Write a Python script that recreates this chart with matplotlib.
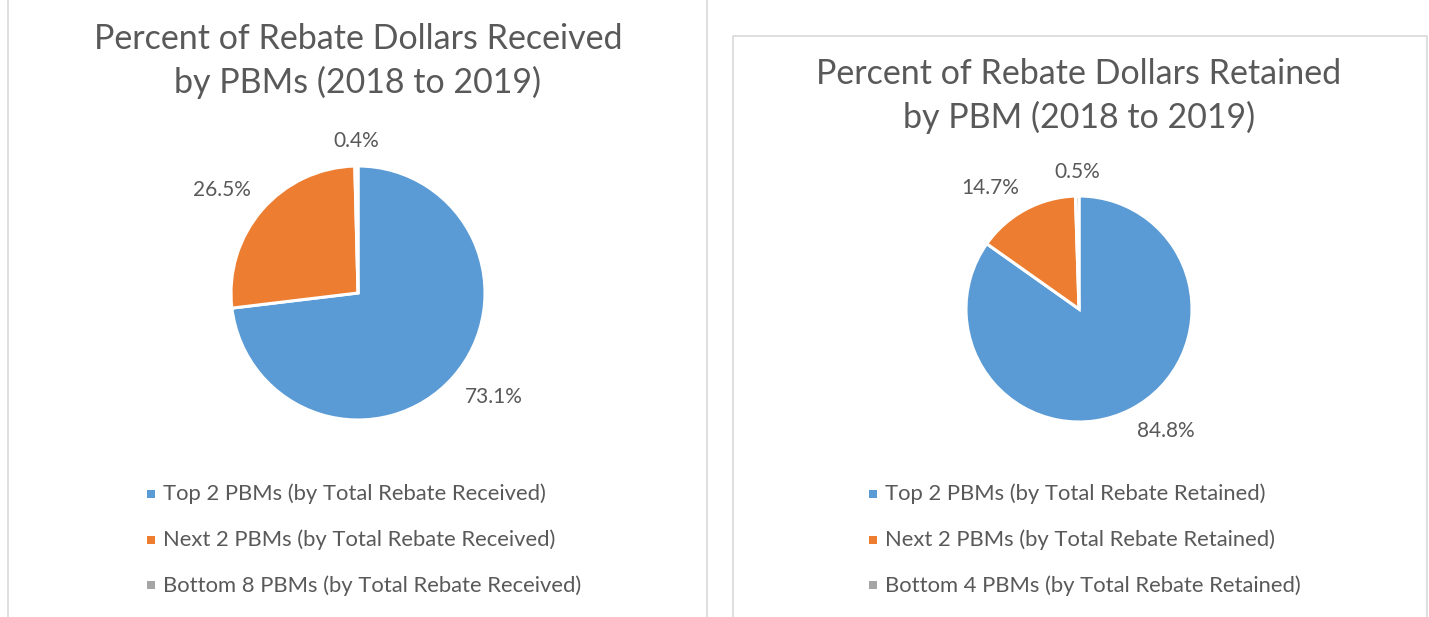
import matplotlib
matplotlib.use("Agg")
import matplotlib.pyplot as plt
import numpy as np
from matplotlib.patches import Rectangle

plt.rcParams["font.family"] = ["Lato", "DejaVu Sans"]

# data
received_labels = [
    "Top 2 PBMs (by Total Rebate Received)",
    "Next 2 PBMs (by Total Rebate Received)",
    "Bottom 8 PBMs (by Total Rebate Received)",
]
received_values = [73.1, 26.5, 0.4]
retained_labels = [
    "Top 2 PBMs (by Total Rebate Retained)",
    "Next 2 PBMs (by Total Rebate Retained)",
    "Bottom 4 PBMs (by Total Rebate Retained)",
]
retained_values = [84.8, 14.7, 0.5]
titles = [
    "Percent of Rebate Dollars Received\nby PBMs (2018 to 2019)",
    "Percent of Rebate Dollars Retained\nby PBM (2018 to 2019)",
]

colors = ["#5B9BD5", "#ED7D31", "#A5A5A5"]
text_color = "#595959"
border_color = "#D9D9D9"

W, H = 1429, 617
fig = plt.figure(figsize=(W / 100, H / 100), dpi=100)


def fx(x):
    return x / W


def fy(y):
    return 1 - y / H


# panel frames
fig.add_artist(Rectangle((fx(8), fy(640)), fx(707) - fx(8), fy(-20) - fy(640),
                         transform=fig.transFigure, fill=False,
                         edgecolor=border_color, linewidth=1.2))
fig.add_artist(Rectangle((fx(733), fy(640)), fx(1427) - fx(733), fy(36) - fy(640),
                         transform=fig.transFigure, fill=False,
                         edgecolor=border_color, linewidth=1.2))


def draw_panel(values, labels, title, cx, cy, r, title_y, legend_x):
    # axes covers +-2 radii around centre
    ax = fig.add_axes([fx(cx - 2 * r), fy(cy + 2 * r), 4 * r / W, 4 * r / H])
    ax.pie(values, colors=colors, startangle=90, counterclock=False,
           wedgeprops=dict(edgecolor="white", linewidth=2.2))
    ax.set_xlim(-2, 2)
    ax.set_ylim(-2, 2)
    ax.set_aspect("equal")
    ax.axis("off")

    # data labels just outside the slice edge, Excel "best fit" style
    fracs = np.array(values) / np.sum(values)
    starts = np.concatenate([[0], np.cumsum(fracs)[:-1]])
    for v, s, f in zip(values, starts, fracs):
        ang = np.deg2rad(90 - 360 * (s + f / 2))
        x, y = np.cos(ang), np.sin(ang)
        if x > 0.2:
            ha = "left"
        elif x < -0.2:
            ha = "right"
        else:
            ha = "center"
        va = "bottom" if y > 0 else "top"
        ax.text(1.12 * x, 1.12 * y, f"{v:.1f}%", ha=ha, va=va,
                fontsize=15, color=text_color)

    fig.text(fx(cx), fy(title_y), title, ha="center", va="center",
             fontsize=24.5, color=text_color, linespacing=1.4)

    for i, (lab, c) in enumerate(zip(labels, colors)):
        y = 494 + i * 45.7
        fig.add_artist(Rectangle((fx(legend_x), fy(y + 4)), fx(8), 8 / H,
                                 transform=fig.transFigure, facecolor=c,
                                 edgecolor="none"))
        fig.text(fx(legend_x + 16), fy(y), lab, ha="left", va="center",
                 fontsize=15.8, color=text_color)


draw_panel(received_values, received_labels, titles[0],
           358, 293, 127, 61, 147)
draw_panel(retained_values, retained_labels, titles[1],
           1079, 309, 113, 96, 869)

fig.savefig("out.png", dpi=100, facecolor="white")
